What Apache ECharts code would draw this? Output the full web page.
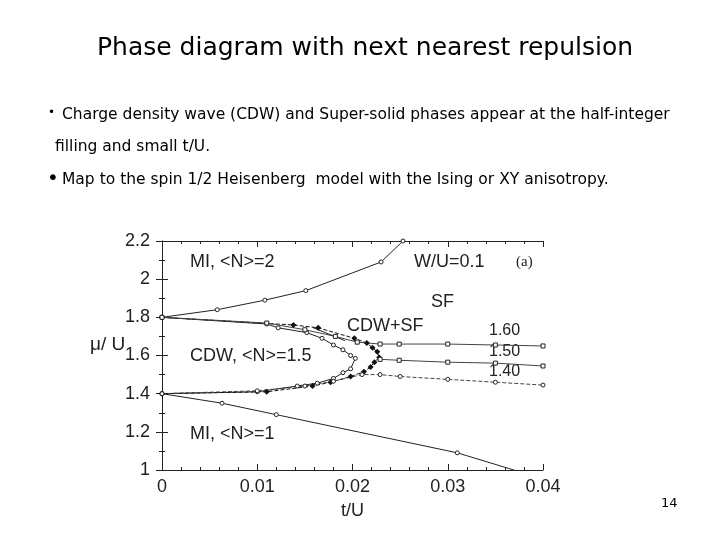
<!DOCTYPE html>
<html><head><meta charset="utf-8">
<script src="https://cdn.jsdelivr.net/npm/echarts@6/dist/echarts.min.js"></script>
<style>html,body{margin:0;background:#fff}#c{width:720px;height:540px}</style>
</head><body><div id="c"></div>
<script>
// boundaries: [t/U, mu/U]
const miUpper = [[0,1.8],[0.0058,1.84],[0.0108,1.89],[0.0151,1.94],[0.023,2.09],[0.0253,2.2]];
const miLower = [[0,1.4],[0.0063,1.35],[0.012,1.29],[0.031,1.09],[0.0376,0.99]];
const cdwInner = [[0,1.8],[0.011,1.765],[0.0122,1.745],[0.0152,1.72],[0.0168,1.69],[0.018,1.655],[0.019,1.63],[0.0198,1.6],[0.0203,1.585],
  [0.0198,1.53],[0.019,1.51],[0.018,1.48],[0.0163,1.455],[0.0142,1.44],[0.010,1.41],[0,1.4]];
const cdwOuter = [[0,1.8],[0.0138,1.76],[0.0164,1.745],[0.0202,1.69],[0.0215,1.665],[0.0221,1.64],[0.0226,1.62],[0.0228,1.59],
  [0.0223,1.565],[0.0219,1.54],[0.0212,1.515],[0.0198,1.49],[0.0177,1.46],[0.0158,1.44],[0.011,1.41],[0,1.4]];
const dens160 = [[0,1.8],[0.011,1.77],[0.015,1.735],[0.0182,1.70],[0.0205,1.67],[0.0229,1.66],[0.0249,1.66],[0.030,1.66],[0.035,1.655],[0.04,1.65]];
const dens150 = [[0.0229,1.58],[0.0249,1.575],[0.030,1.565],[0.035,1.56],[0.04,1.545]];
const dens140 = [[0,1.4],[0.010,1.415],[0.015,1.44],[0.018,1.465],[0.021,1.50],[0.0229,1.5],[0.025,1.49],[0.030,1.475],[0.035,1.46],[0.04,1.445]];
const xTicks = [0, 0.01, 0.02, 0.03, 0.04];
const yTicks = [1, 1.2, 1.4, 1.6, 1.8, 2, 2.2];

const chart = echarts.init(document.getElementById('c'));
const f = 'Liberation Sans, Arial, sans-serif';
const v = 'DejaVu Sans, Verdana, sans-serif';
function line(data, opts) {
  return Object.assign({type:'line', data, symbol:'circle', symbolSize:4, showSymbol:true,
    itemStyle:{color:'#fff', borderColor:'#222', borderWidth:1},
    lineStyle:{color:'#222', width:1}, silent:true, animation:false}, opts || {});
}
const axLine = {show:true, lineStyle:{color:'#222', width:1}};
chart.setOption({
  animation:false,
  grid:{left:162, right:177, top:241, bottom:70},
  xAxis:[{type:'value', min:0, max:0.04, interval:0.01, axisLine:axLine,
      axisTick:{inside:true, length:6, lineStyle:{color:'#222'}}, minorTick:{show:true, splitNumber:5, length:3, lineStyle:{color:'#222'}},
      splitLine:{show:false}, axisLabel:{color:'#222', fontFamily:f, fontSize:18, margin:8,
        formatter: x => xTicks.some(t => Math.abs(t-x)<1e-9) ? String(+x.toFixed(2)) : ''},
      name:'t/U', nameLocation:'middle', nameGap:32, nameTextStyle:{color:'#222', fontFamily:f, fontSize:18}},
    {type:'value', position:'top', min:0, max:0.04, interval:0.01, axisLine:axLine,
      axisTick:{inside:true, length:6, lineStyle:{color:'#222'}}, minorTick:{show:true, splitNumber:5, length:3}, axisLabel:{show:false}, splitLine:{show:false}}],
  yAxis:[{type:'value', min:1, max:2.2, interval:0.2, axisLine:axLine,
      axisTick:{inside:true, length:6, lineStyle:{color:'#222'}}, minorTick:{show:true, splitNumber:2, length:3, lineStyle:{color:'#222'}},
      splitLine:{show:false}, axisLabel:{color:'#222', fontFamily:f, fontSize:18, margin:12,
        formatter: y => yTicks.some(t => Math.abs(t-y)<1e-9) ? String(+y.toFixed(1)) : ''}},
    {type:'value', position:'right', min:1, max:2.2, interval:0.2, axisLine:axLine,
      axisTick:{inside:true, length:6, lineStyle:{color:'#222'}}, minorTick:{show:true, splitNumber:2, length:3}, axisLabel:{show:false}, splitLine:{show:false}}],
  series:[
    line(miUpper), line(miLower),
    line(cdwInner),
    line(cdwOuter, {symbol:'diamond', symbolSize:6, itemStyle:{color:'#111'}, lineStyle:{color:'#111', width:1, type:'dashed'}}),
    line(dens160, {symbol:'rect', lineStyle:{color:'#444', width:1}}),
    line(dens150, {symbol:'rect', lineStyle:{color:'#444', width:1}}),
    line(dens140, {symbol:'circle', lineStyle:{color:'#444', width:1, type:'dashed'}}),
    {type:'line', data:[[0.0192,1.678],[0.0158,1.747]], symbol:'none', lineStyle:{color:'#222', width:1}, silent:true}
  ],
  graphic:[
    {type:'text', left:97, top:36, style:{text:'Phase diagram with next nearest repulsion', font:'25px '+v, fill:'#000'}},
    {type:'text', left:48, top:107, style:{text:'•', font:'12px '+v, fill:'#000'}},
    {type:'text', left:62, top:107, style:{text:'Charge density wave (CDW) and Super-solid phases appear at the half-integer', font:'15.5px '+v, fill:'#000'}},
    {type:'text', left:55, top:139, style:{text:'filling and small t/U.', font:'15.5px '+v, fill:'#000'}},
    {type:'text', left:47, top:169, style:{text:'•', font:'20px '+v, fill:'#000'}},
    {type:'text', left:62, top:172, style:{text:'Map to the spin 1/2 Heisenberg  model with the Ising or XY anisotropy.', font:'15.5px '+v, fill:'#000'}},
    {type:'text', left:90, top:335, style:{text:'μ/ U', font:'19px '+f, fill:'#222'}},
    {type:'text', left:190, top:253, style:{text:'MI, <N>=2', font:'18px '+f, fill:'#222'}},
    {type:'text', left:414, top:253, style:{text:'W/U=0.1', font:'18px '+f, fill:'#222'}},
    {type:'text', left:516, top:255, style:{text:'(a)', font:'15px Liberation Serif, serif', fill:'#222'}},
    {type:'text', left:431, top:293, style:{text:'SF', font:'18px '+f, fill:'#222'}},
    {type:'text', left:347, top:317, style:{text:'CDW+SF', font:'18px '+f, fill:'#222'}},
    {type:'text', left:190, top:347, style:{text:'CDW, <N>=1.5', font:'18px '+f, fill:'#222'}},
    {type:'text', left:489, top:323, style:{text:'1.60', font:'16px '+f, fill:'#222'}},
    {type:'text', left:489, top:344, style:{text:'1.50', font:'16px '+f, fill:'#222'}},
    {type:'text', left:489, top:364, style:{text:'1.40', font:'16px '+f, fill:'#222'}},
    {type:'text', left:190, top:425, style:{text:'MI, <N>=1', font:'18px '+f, fill:'#222'}},
    {type:'text', left:661, top:497, style:{text:'14', font:'13px '+v, fill:'#000'}}
  ]
});
</script></body></html>
